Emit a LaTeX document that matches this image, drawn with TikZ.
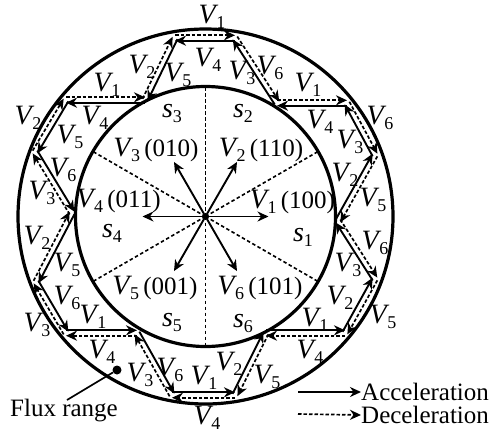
\documentclass[tikz,border=0pt]{standalone}
\usepackage{fontspec}
\setmainfont{Liberation Serif}
\usetikzlibrary{arrows.meta,calc}
\newcommand{\vv}[1]{{\fontsize{28}{28}\selectfont\textit{V}}\kern-2pt\raisebox{-5pt}{\fontsize{18}{18}\selectfont #1}}
\newcommand{\secname}[1]{{\fontsize{28}{28}\selectfont\textit{s}}\raisebox{-5pt}{\fontsize{18}{18}\selectfont #1}}

\begin{document}
\begin{tikzpicture}[
  x=1pt, y=-1pt,
  font=\fontsize{25}{25}\selectfont,
  lab/.style={inner sep=0pt},
  ring/.style={line width=3.2pt},
  acc/.style={-{Stealth[length=11pt,width=10pt]}, line width=1.9pt},
  dec/.style={-{Stealth[length=11pt,width=10pt]}, line width=1.7pt, dash pattern=on 3.5pt off 2pt},
  sect/.style={line width=1.6pt, dash pattern=on 3.5pt off 2.5pt},
]
\useasboundingbox (0,0) rectangle (490,434);
\coordinate (o) at (205.5,216.5);
% flux range
\draw[ring] (o) circle (187.5pt);
\draw[ring] (o) circle (130pt);
% sector borders
\foreach \ang in {30,90,...,330}
  \draw[sect] (o) -- ($(o)+(\ang:130pt)$);
% voltage vectors
\foreach \ang in {0,60,...,300}
  \draw[acc] (o) -- ($(o)+(\ang:63pt)$);
% flux trajectory
\foreach \x/\y [count=\i from 0] in {175/38,145/100,66/100,35/152,72/213,36/282,66/333,137/333,172/395,
  235/395,266/333,345/333,375/279,338/221,375/155,347/103,277/103,235/38}
  \coordinate (p\i) at (\x,\y);
\foreach \a/\b in {0/1,1/2,2/3,3/4,4/5,5/6,6/7,7/8,8/9,9/10,10/11,11/12,12/13,13/14,14/15,15/16,16/17,17/0} {
  \draw[acc] ($(p\a)!2.7pt!90:(p\b)$) -- ($(p\b)!2.7pt!-90:(p\a)$);
  \draw[dec] ($(p\b)!2.7pt!90:(p\a)$) -- ($(p\a)!2.7pt!-90:(p\b)$);
}
% labels on the trajectory
\foreach \d/\x/\y [count=\i] in {1/212/17,4/208/60,2/142/67,5/178/75,3/242/73,6/270/68,
  1/107/85,4/95/118,2/28/118,5/70/137,6/63/170,3/42/193,2/37/238,5/67/265,6/67/298,3/37/325,
  1/93/317,4/102/352,3/140/375,6/170/370,1/204/378,4/207/418,2/229/364,5/267/377,
  1/315/320,4/310/352,2/340/298,5/383/317,3/348/265,6/375/243,5/373/200,2/345/175,
  3/350/142,6/380/118,4/320/122,1/308/85}
  \node[lab] (v\i) at (\x,\y) {\vv{\d}};
% sectors
\foreach \d/\x/\y in {1/303/237,2/243/113,3/172/113,4/112/233,5/172/322,6/243/323}
  \node[lab] (s\d) at (\x,\y) {\secname{\d}};
% vector names
\node[lab] (n1) at (292.5,202) {\vv{1}\,(100)};
\node[lab] (n2) at (261,150) {\vv{2}\,(110)};
\node[lab] (n3) at (156,150) {\vv{3}\,(010)};
\node[lab] (n4) at (118.5,201) {\vv{4}\,(011)};
\node[lab] (n5) at (155,288) {\vv{5}\,(001)};
\node[lab] (n6) at (260,288) {\vv{6}\,(101)};
% flux range pointer
\node[circle, fill=black, inner sep=0pt, minimum size=9pt] (dot) at (117,370) {};
\node[lab] (flux) at (64,411) {Flux range};
\coordinate (fluxend) at (67,400);
\draw[line width=1.7pt] (dot) -- (fluxend);
% legend
\node[lab, anchor=west] (acctext) at (361,392) {Acceleration};
\node[lab, anchor=west] (dectext) at (361,415) {Deceleration};
\coordinate (accstart) at (298,392);
\coordinate (decstart) at (298,414);
\draw[acc] (accstart) -- (acctext.west);
\draw[dec] (decstart) -- (dectext.west);
\end{tikzpicture}
\end{document}
